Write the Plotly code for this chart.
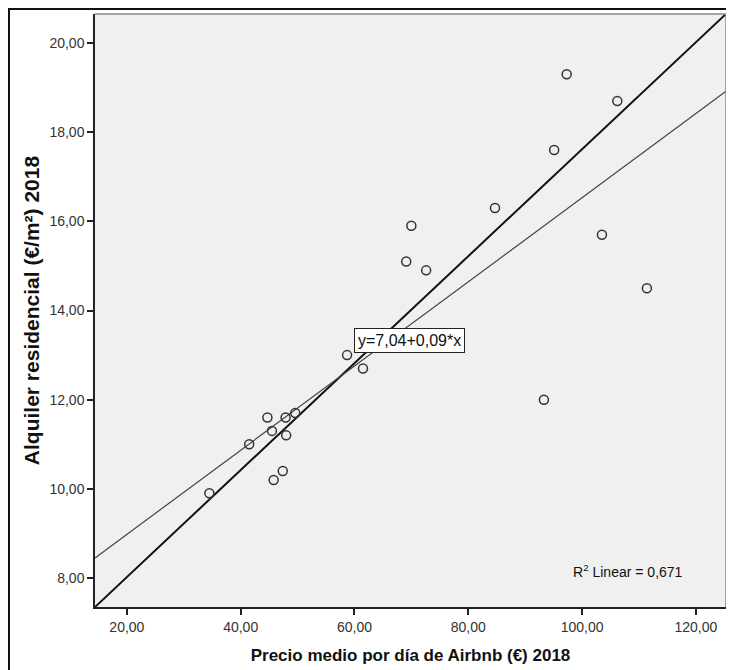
import plotly.graph_objects as go
import numpy as np

# Data
precio_airbnb = [97.3, 106.2, 95.1, 84.7, 70.0, 69.1, 72.6, 103.5, 111.4, 93.3,
                 58.7, 61.5, 44.7, 47.9, 49.6, 45.5, 48.0, 41.5, 47.4, 45.8, 34.5]
alquiler = [19.3, 18.7, 17.6, 16.3, 15.9, 15.1, 14.9, 15.7, 14.5, 12.0,
            13.0, 12.7, 11.6, 11.6, 11.7, 11.3, 11.2, 11.0, 10.4, 10.2, 9.9]

fit_intercept = 7.09
fit_slope = 0.0944
x_range = [14.4, 125.3]
y_range = [7.35, 20.65]
x_ticks = [20, 40, 60, 80, 100, 120]
y_ticks = [8, 10, 12, 14, 16, 18, 20]

fig = go.Figure()

# Diagonal reference line (corner to corner)
fig.add_trace(go.Scatter(x=x_range, y=y_range, mode="lines",
                         line=dict(color="#111111", width=2), hoverinfo="skip",
                         showlegend=False))

# Linear fit line
fx = np.array(x_range)
fig.add_trace(go.Scatter(x=fx, y=fit_intercept + fit_slope * fx, mode="lines",
                         line=dict(color="#444444", width=1.2), hoverinfo="skip",
                         showlegend=False))

fig.add_trace(go.Scatter(x=precio_airbnb, y=alquiler, mode="markers",
                         marker=dict(symbol="circle-open", size=9,
                                     color="#333333", line=dict(width=1.5)),
                         showlegend=False))

font_fam = "Liberation Sans, Arial, sans-serif"

axis_common = dict(showgrid=False, zeroline=False, showline=True,
                   linecolor="#222222", linewidth=1.5, mirror=False,
                   ticks="outside", ticklen=6, tickcolor="#222222", tickwidth=1.5,
                   tickformat=".2f", automargin=False,
                   tickfont=dict(size=14, color="#333333", family=font_fam))

# page body has an 8px margin: canvas is offset accordingly
fig.update_layout(
    template="none",
    width=726, height=662,
    margin=dict(l=87, r=8, t=6, b=63),
    paper_bgcolor="white",
    plot_bgcolor="#F0F0F0",
    separators=",.",
    font=dict(family=font_fam, size=14, color="#333333"),
    xaxis=dict(range=x_range, tickvals=x_ticks, **axis_common,
               title=dict(text="<b>Precio medio por día de Airbnb (€) 2018</b>",
                          font=dict(size=17, color="#111111"), standoff=16)),
    yaxis=dict(range=y_range, tickvals=y_ticks, **axis_common,
               title=dict(text="<b>Alquiler residencial (€/m²) 2018</b>",
                          font=dict(size=21, color="#111111"), standoff=4)),
)

# top and right plot-area edges (gray)
fig.add_shape(type="line", xref="paper", yref="paper", x0=0, x1=1, y0=1, y1=1,
              line=dict(color="#888888", width=1.5))
fig.add_shape(type="line", xref="paper", yref="paper", x0=1, x1=1, y0=0, y1=1,
              line=dict(color="#888888", width=1.5))

# outer frame
fig.add_shape(type="rect", xref="paper", yref="paper",
              x0=-0.1363, x1=1.05, y0=-0.2, y1=1.0084,
              line=dict(color="#111111", width=2), fillcolor="rgba(0,0,0,0)")

# equation label box
fig.add_annotation(x=60.0, y=13.32, xanchor="left", yanchor="middle",
                   text="y=7,04+0,09*x", showarrow=False,
                   font=dict(size=16, color="#111111"),
                   bgcolor="white", bordercolor="#222222", borderwidth=1,
                   borderpad=3)

fig.add_annotation(x=0.935, y=0.06, xref="paper", yref="paper",
                   xanchor="right", yanchor="middle",
                   text="R<sup>2</sup> Linear = 0,671", showarrow=False,
                   font=dict(size=14, color="#111111"))

fig.write_html("out.html")
